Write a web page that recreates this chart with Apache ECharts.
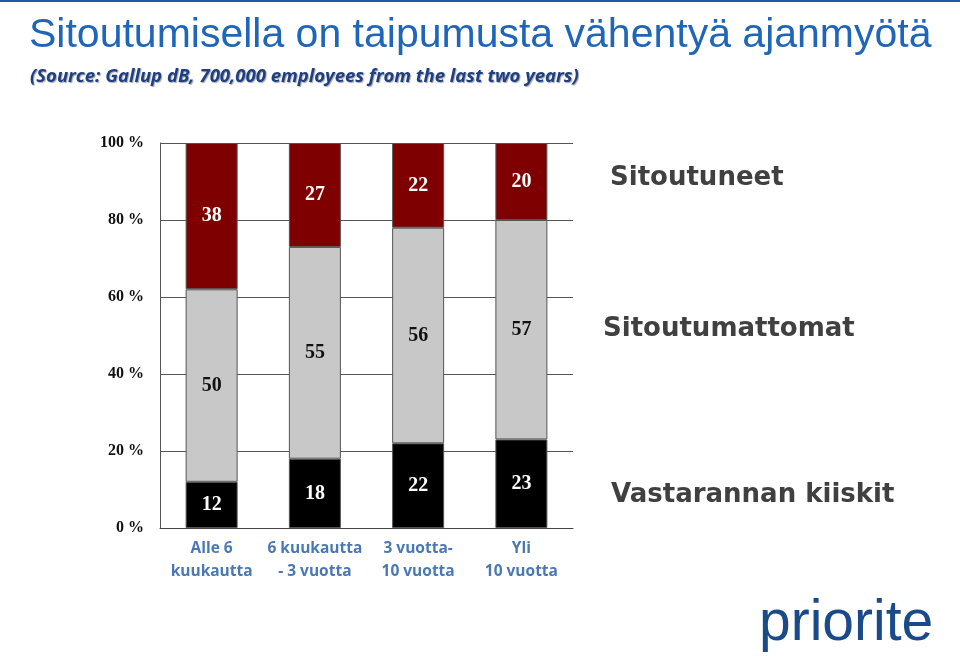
<!DOCTYPE html>
<html>
<head>
<meta charset="utf-8">
<script src="https://cdn.jsdelivr.net/npm/echarts@6/dist/echarts.min.js"></script>
<style>html,body{margin:0;padding:0;background:#fff}#c{width:960px;height:656px}</style>
</head>
<body>
<div id="c"></div>
<script>
const categories = ['Alle 6\nkuukautta', '6 kuukautta\n- 3 vuotta', '3 vuotta-\n10 vuotta', 'Yli\n10 vuotta'];
const vastarannanKiiskit = [12, 18, 22, 23];
const sitoutumattomat = [50, 55, 56, 57];
const sitoutuneet = [38, 27, 22, 20];
const seriesNames = ['Vastarannan kiiskit', 'Sitoutumattomat', 'Sitoutuneet'];
const titleText = 'Sitoutumisella on taipumusta vähentyä ajanmyötä';
const subtitleText = '(Source: Gallup dB, 700,000 employees from the last two years)';
const logoText = 'priorite';

const chart = echarts.init(document.getElementById('c'));
const serifLabel = (color) => ({
  show: true, position: 'inside', color: color,
  fontFamily: 'Liberation Serif', fontWeight: 'bold', fontSize: 20
});
const mk = (name, data, fill, lblColor) => ({
  name, type: 'bar', stack: 'total', data, barWidth: 52,
  itemStyle: { color: fill, borderColor: '#555', borderWidth: 1 },
  label: serifLabel(lblColor)
});
chart.setOption({
  animation: false,
  backgroundColor: '#fff',
  grid: { left: 160, right: 387, top: 143, bottom: 128 },
  xAxis: {
    type: 'category', data: categories,
    axisLine: { lineStyle: { color: '#444', width: 1 } },
    axisTick: { show: false },
    axisLabel: { interval: 0, color: '#4a78b5', fontFamily: 'Open Sans', fontWeight: 'bold', fontSize: 15.5, lineHeight: 23, margin: 9 }
  },
  yAxis: {
    type: 'value', min: 0, max: 100, interval: 20,
    axisLine: { show: true, lineStyle: { color: '#555' } },
    axisTick: { show: false },
    splitLine: { lineStyle: { color: '#555', width: 1 } },
    axisLabel: { formatter: '{value} %', color: '#111', fontFamily: 'Liberation Serif', fontWeight: 'bold', fontSize: 16, margin: 16 }
  },
  series: [
    mk(seriesNames[0], vastarannanKiiskit, '#000000', '#ffffff'),
    mk(seriesNames[1], sitoutumattomat, '#c8c8c8', '#111111'),
    mk(seriesNames[2], sitoutuneet, '#7f0000', '#ffffff')
  ],
  graphic: [
    { type: 'rect', left: 0, top: 0, shape: { width: 960, height: 2 }, style: { fill: '#1f5a9e' } },
    { type: 'text', left: 29, top: 15, style: { text: titleText, fill: '#1f66b8', font: '41px "Liberation Sans"' } },
    { type: 'text', left: 30, top: 67, style: { text: subtitleText, fill: '#1f3f85', font: 'italic bold 18.5px "Open Sans"', textShadowColor: 'rgba(0,0,0,0.35)', textShadowOffsetX: 1, textShadowOffsetY: 1, textShadowBlur: 1 } },
    { type: 'text', left: 610, top: 165, style: { text: seriesNames[2], fill: '#404040', font: 'bold 26px "DejaVu Sans"' } },
    { type: 'text', left: 603, top: 316, style: { text: seriesNames[1], fill: '#404040', font: 'bold 26px "DejaVu Sans"' } },
    { type: 'text', left: 611, top: 482, style: { text: seriesNames[0], fill: '#404040', font: 'bold 26px "DejaVu Sans"' } },
    { type: 'text', left: 759, top: 596, style: { text: logoText, fill: '#1b4a8a', font: '57px "Liberation Sans"' } }
  ]
});
</script>
</body>
</html>
